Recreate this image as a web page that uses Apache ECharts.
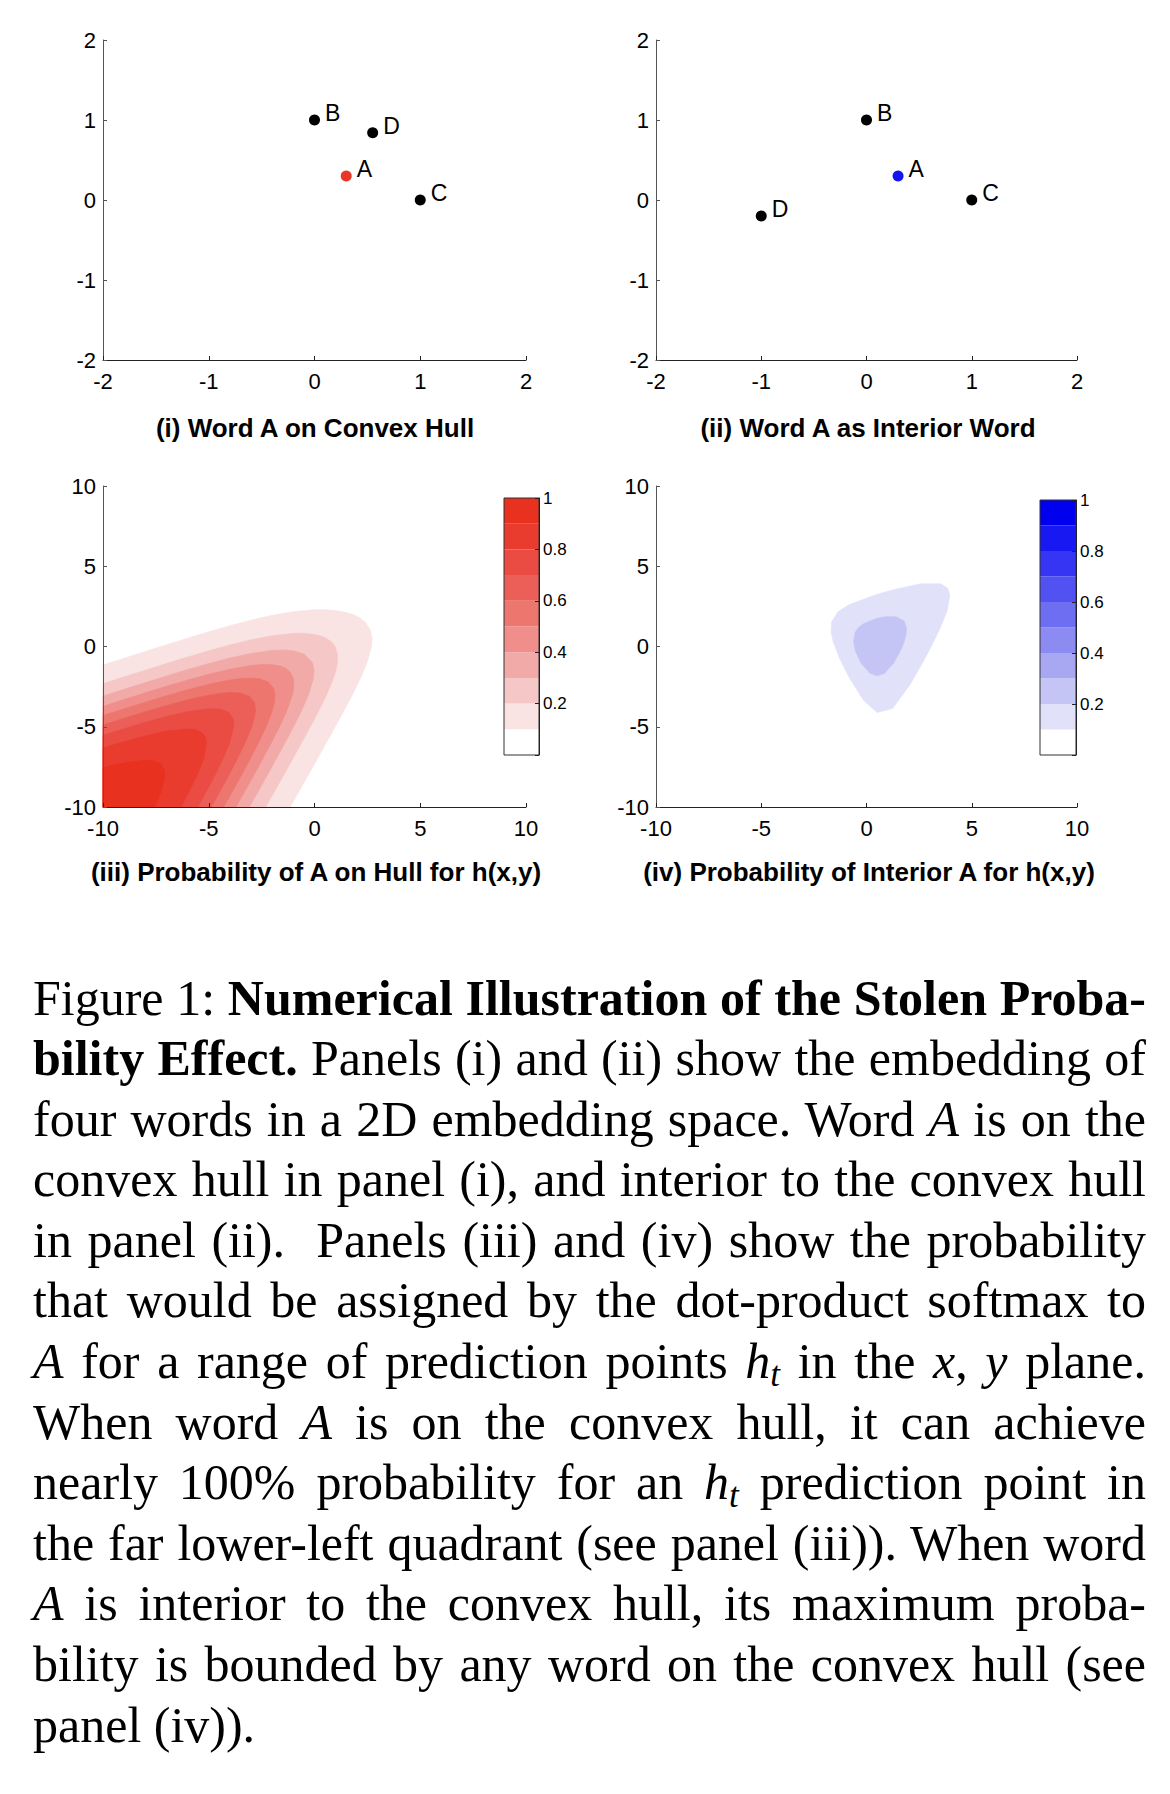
<!DOCTYPE html>
<html><head><meta charset="utf-8">
<script src="https://cdn.jsdelivr.net/npm/echarts@6/dist/echarts.min.js"></script>
<style>
html,body{margin:0;padding:0;background:#fff;}
#chart{position:absolute;left:0;top:0;width:1170px;height:950px;}
#caption{position:absolute;left:33px;top:967.5px;width:1113px;font-family:"Liberation Serif","Times New Roman",Times,serif;font-size:50px;line-height:60.6px;color:#000;}
#caption .ln{height:60.6px;white-space:nowrap;}
#caption .j{display:inline-block;white-space:nowrap;}
#caption sub{font-size:0.7em;line-height:0;vertical-align:-0.22em;font-style:italic;}
</style>
</head><body>
<div id="chart"></div>
<div id="caption">
<div class="ln"><span class="j">Figure 1: <b>Numerical Illustration of the Stolen Proba-</b></span></div>
<div class="ln"><span class="j"><b>bility Effect.</b> Panels (i) and (ii) show the embedding of</span></div>
<div class="ln"><span class="j">four words in a 2D embedding space. Word <i>A</i> is on the</span></div>
<div class="ln"><span class="j">convex hull in panel (i), and interior to the convex hull</span></div>
<div class="ln"><span class="j">in panel (ii).&nbsp; Panels (iii) and (iv) show the probability</span></div>
<div class="ln"><span class="j">that would be assigned by the dot-product softmax to</span></div>
<div class="ln"><span class="j"><i>A</i> for a range of prediction points <i>h</i><sub>t</sub> in the <i>x</i>, <i>y</i> plane.</span></div>
<div class="ln"><span class="j">When word <i>A</i> is on the convex hull, it can achieve</span></div>
<div class="ln"><span class="j">nearly 100% probability for an <i>h</i><sub>t</sub> prediction point in</span></div>
<div class="ln"><span class="j">the far lower-left quadrant (see panel (iii)). When word</span></div>
<div class="ln"><span class="j"><i>A</i> is interior to the convex hull, its maximum proba-</span></div>
<div class="ln"><span class="j">bility is bounded by any word on the convex hull (see</span></div>
<div class="ln"><span>panel (iv)).</span></div>
</div>
<script>
// ---------------- data ----------------
const panelTitles = ['(i) Word A on Convex Hull', '(ii) Word A as Interior Word',
  '(iii) Probability of A on Hull for h(x,y)', '(iv) Probability of Interior A for h(x,y)'];

// panel (i): word embeddings, A on the convex hull
const hullWords = ['B', 'D', 'A', 'C'];
const hullX = [0, 0.55, 0.3, 1];
const hullY = [1, 0.84, 0.3, 0];

// panel (ii): word embeddings, A interior
const interiorWords = ['B', 'A', 'C', 'D'];
const interiorX = [0, 0.3, 1, -1];
const interiorY = [1, 0.3, 0, -0.2];

// colour bar bands (probability edges) and colours, lowest band first
const bandEdges = [0, 0.1, 0.2, 0.3, 0.4, 0.5, 0.6, 0.7, 0.8, 0.9, 1];
const redBands = ['#FFFFFF', '#FAE3E3', '#F5C7C7', '#F2AAA8', '#EF8E8A', '#ED766F', '#EB5F58', '#EA4C43', '#E93C2E', '#E8311F'];
const blueBands = ['#FFFFFF', '#E1E1FA', '#C5C5F5', '#A8A8F2', '#8B8BF2', '#6E6EF2', '#5252F3', '#3535F3', '#1818F2', '#0000EE'];

// panel (iii): contour lines (x, y) of P(A) = 0.1 ... 0.9
const hullL10 = [[-10,-1.154],[-9,-0.73],[-8,-0.308],[-7,0.108],[-6,0.518],[-5,0.915],[-4,1.293],[-3,1.641],[-2,1.942],[-1,2.171],[0,2.291],[0.5,2.293],[1,2.243],[1.5,2.121],[1.795,2],[1.928,1.928],[2.116,1.8],[2.41,1.5],[2.648,1],[2.72,0.5],[2.694,0],[2.486,-1],[2.166,-2],[1.793,-3],[1.393,-4],[0.979,-5],[0.559,-6],[0.134,-7],[-0.292,-8],[-0.72,-9],[-1.148,-10]];
const hullL20 = [[-10,-2.314],[-9,-1.891],[-8,-1.472],[-7,-1.058],[-6,-0.654],[-5,-0.266],[-4,0.097],[-3,0.419],[-2,0.674],[-1,0.817],[-0.5,0.82],[0,0.75],[0.3,0.655],[0.53,0.53],[0.8,0.3],[0.974,0],[1.091,-0.5],[1.085,-1],[1.01,-1.5],[0.889,-2],[0.574,-3],[0.203,-4],[-0.196,-5],[-0.609,-6],[-1.029,-7],[-1.453,-8],[-1.879,-9],[-2.307,-10]];
const hullL30 = [[-10,-3.086],[-9,-2.664],[-8,-2.247],[-7,-1.837],[-6,-1.44],[-5,-1.061],[-4,-0.717],[-3,-0.429],[-2,-0.243],[-1.5,-0.215],[-1,-0.264],[-0.479,-0.479],[-0.1,-1],[-0.021,-1.5],[-0.054,-2],[-0.281,-3],[-0.611,-4],[-0.989,-5],[-1.391,-6],[-1.806,-7],[-2.227,-8],[-2.651,-9],[-3.078,-10]];
const hullL40 = [[-10,-3.72],[-9,-3.3],[-8,-2.885],[-7,-2.479],[-6,-2.09],[-5,-1.727],[-4,-1.41],[-3,-1.178],[-2.5,-1.119],[-2,-1.128],[-1.6,-1.222],[-1.357,-1.357],[-1.143,-1.6],[-0.995,-2],[-0.977,-2.5],[-1.044,-3],[-1.307,-4],[-1.654,-5],[-2.04,-6],[-2.447,-7],[-2.864,-8],[-3.285,-9],[-3.71,-10]];
const hullL50 = [[-10,-4.3],[-9,-3.884],[-8,-3.473],[-7,-3.074],[-6,-2.697],[-5,-2.357],[-4,-2.09],[-3.5,-2.0],[-3,-1.97],[-2.6,-2.016],[-2.2,-2.2],[-1.935,-2.6],[-1.87,-3],[-1.9,-3.5],[-1.995,-4],[-2.288,-5],[-2.648,-6],[-3.04,-7],[-3.45,-8],[-3.87,-9],[-4.292,-10]];
const hullL60 = [[-10,-4.885],[-9,-4.47],[-8,-4.067],[-7,-3.68],[-6,-3.325],[-5,-3.03],[-4.5,-2.923],[-4,-2.865],[-3.5,-2.899],[-3.09,-3.09],[-2.839,-3.5],[-2.79,-4],[-2.852,-4.5],[-2.965,-5],[-3.278,-6],[-3.647,-7],[-4.045,-8],[-4.457,-9],[-4.875,-10]];
const hullL70 = [[-10,-5.525],[-9,-5.12],[-8,-4.725],[-7,-4.36],[-6,-4.055],[-5,-3.875],[-4.5,-3.89],[-4.08,-4.08],[-3.85,-4.5],[-3.82,-5],[-4.01,-6],[-4.33,-7],[-4.7,-8],[-5.1,-9],[-5.515,-10]];
const hullL80 = [[-10,-6.31],[-9,-5.93],[-8,-5.57],[-7,-5.27],[-6,-5.13],[-5.6,-5.19],[-5.34,-5.34],[-5.17,-5.6],[-5.1,-6],[-5.24,-7],[-5.545,-8],[-5.91,-9],[-6.31,-10]];
const hullL90 = [[-10,-7.56],[-9,-7.25],[-8,-7.08],[-7.6,-7.13],[-7.29,-7.29],[-7.12,-7.6],[-7.07,-8],[-7.24,-9],[-7.55,-10]];

// panel (iv): contour lines of P(A) = 0.1 and 0.2
const interiorL10 = [[3.187,0.3],[3.485,1.1],[3.832,2.224],[3.963,3.206],[3.845,3.645],[3.524,3.904],[2.585,3.91],[1.377,3.574],[0.5,3.248],[-0.831,2.605],[-1.358,2.158],[-1.653,1.543],[-1.678,0.884],[-1.581,0.3],[-1.281,-0.729],[-0.809,-1.967],[-0.143,-3.35],[0.5,-4.113],[1.234,-3.866],[2.058,-2.398],[2.683,-0.96],[2.932,-0.352]];
const interiorL20 = [[1.788,0.3],[1.867,0.666],[1.908,1.113],[1.792,1.592],[1.4,1.859],[0.918,1.86],[0.5,1.757],[-0.145,1.417],[-0.378,1.178],[-0.532,0.896],[-0.618,0.3],[-0.525,-0.292],[-0.262,-1.021],[0.155,-1.655],[0.5,-1.83],[0.848,-1.676],[1.279,-1.048],[1.59,-0.33],[1.695,-0.02]];

const hullContours = [hullL10, hullL20, hullL30, hullL40, hullL50, hullL60, hullL70, hullL80, hullL90];
const interiorContours = [interiorL10, interiorL20];

// ---------------- chart ----------------
const FONT = '"Liberation Sans", Arial, Helvetica, sans-serif';
const chart = echarts.init(document.getElementById('chart'), null, {renderer: 'svg'});

function valAxis(gi, min, max, interval, isX) {
  const col = isX ? '#222' : '#555';
  return {
    gridIndex: gi, type: 'value', min: min, max: max, interval: interval, z: 3,
    axisLine: {show: true, onZero: false, lineStyle: {color: col, width: 1}},
    axisTick: {show: true, inside: true, length: 4, lineStyle: {color: col, width: 1}},
    axisLabel: {fontSize: 22, color: '#000', fontFamily: FONT, margin: isX ? 10 : 7},
    splitLine: {show: false}
  };
}
function barAxisY(gi) {
  return {
    gridIndex: gi, type: 'value', min: 0, max: 1, interval: 0.2, position: 'right', z: 3,
    axisLine: {show: true, onZero: false, lineStyle: {color: '#222', width: 1}},
    axisTick: {show: true, inside: true, length: 4, lineStyle: {color: '#222'}},
    axisLabel: {fontSize: 17, color: '#000', fontFamily: FONT, margin: 4,
      formatter: v => (v === 0 ? '' : String(Math.round(v * 10) / 10))},
    splitLine: {show: false}
  };
}
function barAxisX(gi) {
  return {gridIndex: gi, type: 'value', min: 0, max: 1, show: false};
}

function wordSeries(gi, words, xs, ys, accent) {
  return {
    type: 'scatter', xAxisIndex: gi, yAxisIndex: gi, symbolSize: 11, z: 4, silent: true,
    data: words.map((w, i) => ({name: w, value: [xs[i], ys[i]],
      itemStyle: {color: w === 'A' ? accent : '#000', opacity: 1}})),
    label: {show: true, formatter: '{b}', position: 'right', distance: 5, offset: [0, -7],
      fontSize: 23, fontFamily: FONT, color: '#000'}
  };
}

function contourSeries(gi, polys, bands, anchor) {
  return {
    type: 'custom', xAxisIndex: gi, yAxisIndex: gi, z: 1, silent: true,
    data: polys.map((_, i) => [-10, -10, i]),
    renderItem: function (params, api) {
      const k = api.value(2);
      const pts = polys[k].map(p => api.coord(p));
      if (anchor) pts.push(api.coord(anchor));
      return {type: 'polygon', shape: {points: pts},
        style: {fill: bands[k + 1], stroke: bands[k + 1], lineWidth: 0.6}};
    }
  };
}

function colorbarSeries(gi, bands) {
  return {
    type: 'custom', xAxisIndex: gi, yAxisIndex: gi, z: 1, silent: true,
    data: bands.map((c, i) => [0, bandEdges[i], bandEdges[i + 1], i]),
    renderItem: function (params, api) {
      const lo = api.value(1), hi = api.value(2), k = api.value(3);
      const p0 = api.coord([0, hi]);
      const p1 = api.coord([1, lo]);
      return {type: 'rect', shape: {x: p0[0], y: p0[1], width: p1[0] - p0[0], height: p1[1] - p0[1]},
        style: {fill: bands[k]}};
    }
  };
}

const titlePos = [[315, 428], [868, 428], [316, 872], [869, 872]];

const option = {
  animation: false,
  backgroundColor: '#fff',
  grid: [
    {left: 103, top: 40, width: 423, height: 320},
    {left: 656, top: 40, width: 421, height: 320},
    {left: 103, top: 486, width: 423, height: 321},
    {left: 656, top: 486, width: 421, height: 321},
    {left: 504, top: 498, width: 35, height: 257, show: true, borderColor: '#333', borderWidth: 1, z: 3},
    {left: 1040, top: 500, width: 36, height: 255, show: true, borderColor: '#333', borderWidth: 1, z: 3}
  ],
  xAxis: [
    valAxis(0, -2, 2, 1, true), valAxis(1, -2, 2, 1, true),
    valAxis(2, -10, 10, 5, true), valAxis(3, -10, 10, 5, true),
    barAxisX(4), barAxisX(5)
  ],
  yAxis: [
    valAxis(0, -2, 2, 1, false), valAxis(1, -2, 2, 1, false),
    valAxis(2, -10, 10, 5, false), valAxis(3, -10, 10, 5, false),
    barAxisY(4), barAxisY(5)
  ],
  series: [
    wordSeries(0, hullWords, hullX, hullY, '#E8362A'),
    wordSeries(1, interiorWords, interiorX, interiorY, '#1414F0'),
    contourSeries(2, hullContours, redBands, [-10, -10]),
    contourSeries(3, interiorContours, blueBands, null),
    colorbarSeries(4, redBands),
    colorbarSeries(5, blueBands)
  ],
  graphic: panelTitles.map((t, i) => ({
    type: 'text', x: titlePos[i][0], y: titlePos[i][1], silent: true,
    style: {text: t, font: 'bold 26px ' + FONT, fill: '#000',
      textAlign: 'center', textVerticalAlign: 'middle', align: 'center', verticalAlign: 'middle'}
  }))
};
chart.setOption(option);

// justify every caption line except the last one to the column width
(function () {
  const W = 1113;
  document.querySelectorAll('#caption .j').forEach(el => {
    el.style.wordSpacing = '0px';
    const w = el.getBoundingClientRect().width;
    const n = (el.textContent.match(/[ \u00a0]/g) || []).length;
    if (n) el.style.wordSpacing = ((W - w) / n) + 'px';
  });
})();
</script>
</body></html>
